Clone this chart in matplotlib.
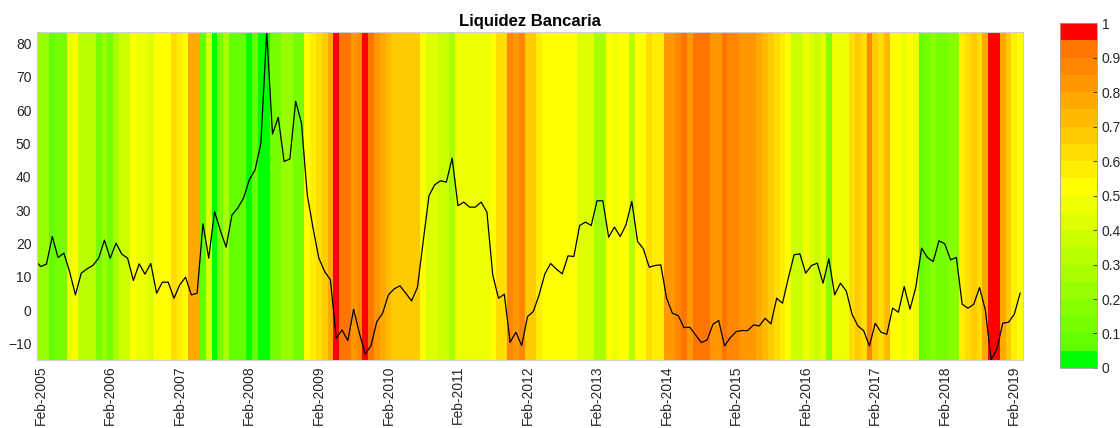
import numpy as np
import matplotlib
matplotlib.use('Agg')
import matplotlib.pyplot as plt
from matplotlib.colors import ListedColormap, Normalize
from matplotlib.cm import ScalarMappable

plt.rcParams['font.family'] = ['Liberation Sans', 'DejaVu Sans']

# month index 0 = Feb-2005, data runs from Jan-2005 (-1) to Mar-2019 (169)
first_month = -1

liquidez = [
    15.0, 13.1, 13.8, 22.1, 15.8, 17.1, 11.5, 4.6, 11.1, 12.4, 13.4, 15.6,
    21.0, 15.6, 20.1, 16.8, 15.6, 8.9, 13.9, 10.8, 14.0, 5.1, 8.4, 8.4,
    3.6, 7.6, 9.9, 4.6, 5.1, 25.9, 15.6, 29.6, 23.9, 18.9, 28.5, 30.6,
    33.6, 39.1, 42.1, 50.1, 83.4, 52.8, 57.8, 44.6, 45.3, 62.6, 56.1, 34.6,
    24.6, 15.6, 11.6, 9.1, -8.4, -5.9, -9.1, 0.3, -6.9, -13.1, -10.6, -3.4,
    -0.9, 4.6, 6.4, 7.3, 5.1, 2.8, 6.8, 20.6, 34.3, 37.6, 38.8, 38.4,
    45.6, 31.3, 32.4, 30.9, 30.9, 32.4, 29.4, 10.6, 3.6, 4.8, -9.6, -6.6,
    -10.6, -1.9, -0.4, 4.6, 10.9, 14.0, 12.3, 10.9, 16.3, 16.1, 25.4, 26.4,
    25.4, 32.8, 32.8, 21.9, 24.9, 22.1, 25.6, 32.6, 20.6, 18.4, 12.9, 13.4,
    13.6, 3.6, -0.9, -1.6, -5.2, -5.1, -7.4, -9.7, -8.9, -4.2, -3.1, -10.7,
    -8.2, -6.4, -6.1, -6.1, -4.4, -4.7, -2.4, -4.1, 3.6, 2.1, 9.6, 16.6,
    16.9, 11.1, 13.4, 14.1, 8.1, 15.4, 4.6, 8.1, 5.8, -1.2, -4.7, -6.1,
    -10.7, -3.9, -6.6, -7.2, 0.6, -0.6, 7.1, 0.3, 6.8, 18.6, 15.8, 14.6,
    20.8, 19.9, 15.1, 15.8, 1.8, 0.6, 1.8, 6.8, 0.1, -14.9, -11.6, -3.9,
    -3.6, -1.2, 5.1,
]

# probability shown as background colour, one per month
prob = [
    0.22, 0.22, 0.22, 0.07, 0.12, 0.12, 0.47, 0.52, 0.32, 0.32, 0.32, 0.12,
    0.22, 0.12, 0.27, 0.37, 0.37, 0.52, 0.47, 0.47, 0.42, 0.52, 0.52, 0.52,
    0.62, 0.57, 0.52, 0.77, 0.77, 0.07, 0.42, 0.02, 0.12, 0.27, 0.07, 0.07,
    0.07, 0.02, 0.07, 0.02, 0.02, 0.12, 0.12, 0.22, 0.22, 0.12, 0.12, 0.52,
    0.57, 0.62, 0.67, 0.77, 0.97, 0.92, 0.92, 0.82, 0.87, 0.97, 0.92, 0.82,
    0.77, 0.72, 0.67, 0.67, 0.67, 0.67, 0.67, 0.52, 0.42, 0.42, 0.37, 0.37,
    0.27, 0.47, 0.47, 0.47, 0.47, 0.47, 0.47, 0.52, 0.62, 0.62, 0.87, 0.82,
    0.87, 0.67, 0.67, 0.57, 0.52, 0.52, 0.52, 0.52, 0.52, 0.52, 0.42, 0.42,
    0.42, 0.27, 0.27, 0.52, 0.47, 0.52, 0.52, 0.32, 0.52, 0.52, 0.62, 0.57,
    0.57, 0.82, 0.82, 0.87, 0.92, 0.82, 0.92, 0.92, 0.92, 0.82, 0.82, 0.92,
    0.87, 0.87, 0.82, 0.82, 0.82, 0.77, 0.72, 0.67, 0.62, 0.57, 0.52, 0.37,
    0.37, 0.47, 0.42, 0.37, 0.42, 0.17, 0.47, 0.47, 0.47, 0.62, 0.67, 0.62,
    0.87, 0.67, 0.62, 0.72, 0.52, 0.52, 0.47, 0.52, 0.47, 0.07, 0.12, 0.17,
    0.12, 0.12, 0.17, 0.17, 0.57, 0.62, 0.67, 0.62, 0.77, 0.97, 0.97, 0.77,
    0.67, 0.57, 0.52,
]

years = list(range(2005, 2020))
tick_labels = [f'Feb-{y}' for y in years]

# 20-step green -> yellow -> red map
cols = [(0.0, 1.0, 0.0)]
for k in range(9):
    cols.append(((100 + k * 155 / 9) / 255, 1.0, 0.0))
for k in range(9):
    cols.append((1.0, (255 - k * 155 / 9) / 255, 0.0))
cols.append((1.0, 0.0, 0.0))
cmap = ListedColormap(cols)
norm = Normalize(0, 1)

x = np.arange(first_month, first_month + len(liquidez))
y = np.array(liquidez)
ymin, ymax = y.min(), y.max()

fig = plt.figure(figsize=(11.2, 4.28), dpi=100)
ax = fig.add_axes([0.033, 0.159, 0.8804, 0.7664])

edges = np.append(x - 0.5, x[-1] + 0.5)
ax.pcolormesh(edges, [ymin, ymax], np.array(prob)[None, :], cmap=cmap, norm=norm,
              shading='flat', edgecolors='none', antialiased=False)
ax.plot(x, y, color='black', lw=0.9)

ax.set_xlim(-0.64, 169.5)
ax.set_ylim(ymin, ymax)
ax.set_yticks(range(-10, 81, 10))
ax.set_xticks([12 * (yr - 2005) for yr in years])
ax.set_xticklabels(tick_labels, rotation=90)
ax.tick_params(length=0, labelsize=10, colors='#262626', pad=4)
for s in ax.spines.values():
    s.set_color('#d0d0d0')
    s.set_linewidth(0.8)
ax.set_title('Liquidez Bancaria', fontsize=12, fontweight='bold', pad=4)

cax = fig.add_axes([0.9464, 0.1402, 0.033, 0.806])
sm = ScalarMappable(norm=norm, cmap=cmap)
cb = fig.colorbar(sm, cax=cax, ticks=np.arange(0, 1.01, 0.1))
cb.ax.set_yticklabels([f'{t:g}' for t in np.round(np.arange(0, 1.01, 0.1), 1)])
cb.ax.tick_params(direction='in', length=3, labelsize=10, colors='#262626', width=0.6)
cb.outline.set_edgecolor('#a0a0a0')
cb.outline.set_linewidth(0.6)

fig.savefig('out.png', dpi=100)
